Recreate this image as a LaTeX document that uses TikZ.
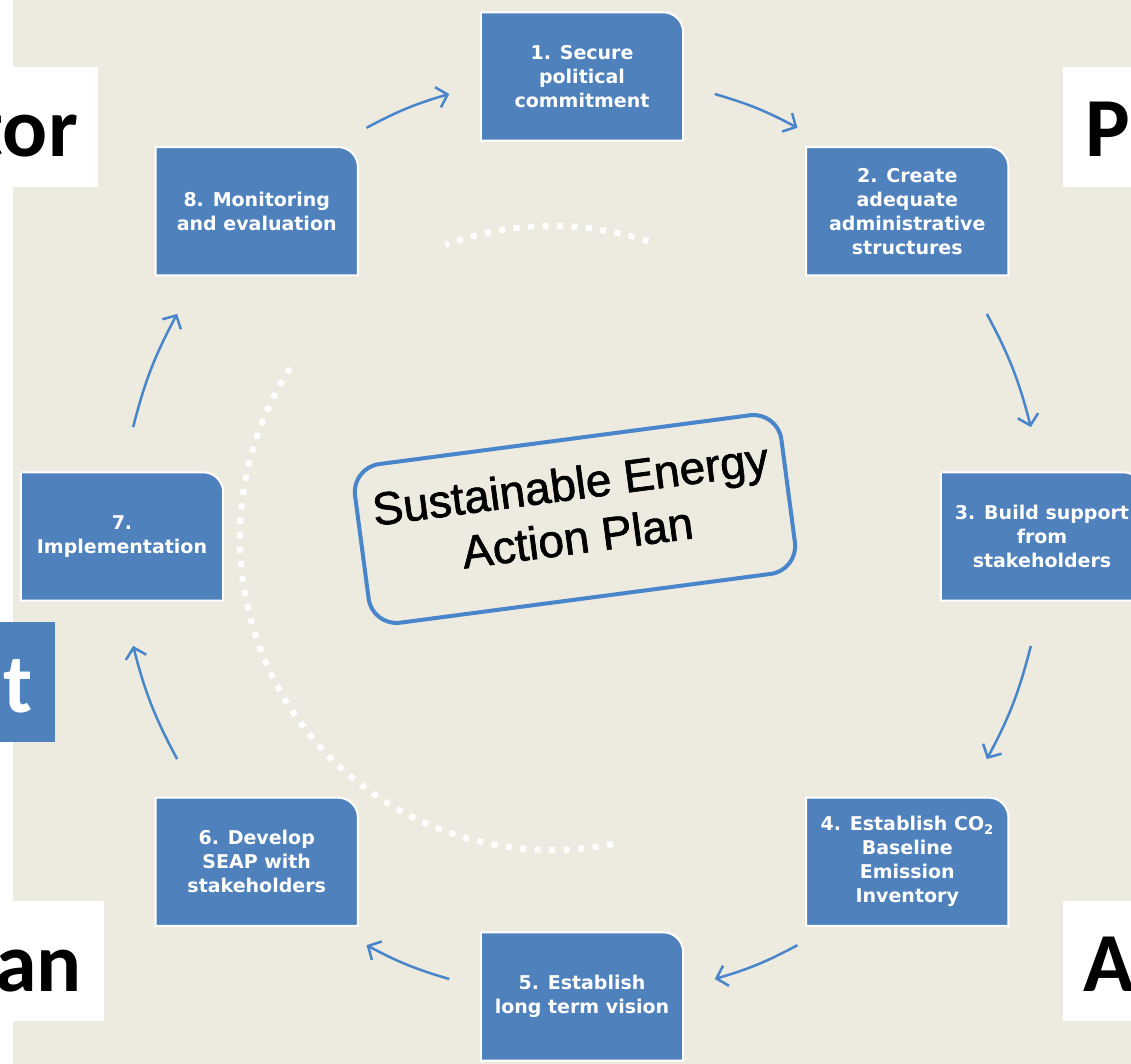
\documentclass[tikz,border=0pt]{standalone}
\usepackage{fontspec}
\setmainfont{Liberation Sans}
\newfontfamily\planfont[FakeBold=1.4]{Liberation Sans}
\newfontfamily\stepfont{DejaVu Sans}
\newfontfamily\tagfont{Carlito}
\usetikzlibrary{arrows.meta, backgrounds}

\definecolor{paper}{RGB}{237,234,224}
\definecolor{stepblue}{RGB}{79,129,189}
\definecolor{ringblue}{RGB}{72,133,202}

\begin{document}
\begin{tikzpicture}[x=1pt, y=1pt]
    \tikzset{
      >={Straight Barb[length=10pt, width=21pt]}, % open arrow heads
      every node/.style={inner sep=0pt},
      stepbox/.style={minimum width=202pt, minimum height=128pt, align=center, text=white,
        font=\stepfont\bfseries\fontsize{19}{24}\selectfont}, % the eight steps
      stepfill/.style={fill=stepblue, draw=white, line width=2pt}, % only the top right corner is round
      plan/.style={draw=ringblue, line width=4pt, fill=paper, rounded corners=28pt,
        minimum width=430pt, minimum height=160pt, align=center, rotate=7.5,
        text depth=18pt, font=\planfont\fontsize{46}{54}\selectfont}, % box in the middle
      tag/.style={fill=white, minimum height=120pt, text height=60pt, text depth=0pt,
        inner xsep=20pt, font=\tagfont\bfseries\fontsize{84}{84}\selectfont}, % cut words at the sides
      flow/.style={draw=ringblue, line width=2.5pt, every edge/.append style={->}},
      dots/.style={draw=white, line width=6pt, dash pattern=on 6pt off 8.5pt},
    }

    \useasboundingbox (-582,-527.5) rectangle (549,536.5);
    \clip (-582,-527.5) rectangle (549,536.5);

    \coordinate (dotring) at (-30,-1.5);

    \node[stepbox] (s1) at (90:460) {1. Secure\\political\\commitment};
    \node[stepbox] (s2) at (45:460) {2. Create\\adequate\\administrative\\structures};
    \node[stepbox] (s3) at (0:460) {3. Build support\\from\\stakeholders};
    \node[stepbox] (s4) at (-45:460) {4. Establish CO\textsubscript{2}\\Baseline\\Emission\\Inventory};
    \node[stepbox] (s5) at (-90:460) {5. Establish\\long term vision};
    \node[stepbox] (s6) at (-135:460) {6. Develop\\SEAP with\\stakeholders};
    \node[stepbox] (s7) at (180:460) {7.\\Implementation};
    \node[stepbox] (s8) at (135:460) {8. Monitoring\\and evaluation};

    \node[plan] (plan) at (-7,17.5) {Sustainable Energy\\Action Plan};

    \node[tag, anchor=east] (tor) at (-484,409.5) {tor};
    \node[tag, anchor=west, inner xsep=22pt] (p) at (481,409.5) {P};
    \node[tag, anchor=east, fill=stepblue, text=white, inner xsep=22pt] (t) at (-527,-145.5) {t};
    \node[tag, anchor=east, inner xsep=22pt] (an) at (-478,-424.5) {an};
    \node[tag, anchor=west] (a) at (481,-424.5) {A};

    % ends of the arrows round the ring
    \coordinate (a12) at (73.3:462);   \coordinate (b12) at (62.2:462);
    \coordinate (a23) at (28.8:462);   \coordinate (b23) at (13.7:462);
    \coordinate (a34) at (-13.7:462);  \coordinate (b34) at (-28.8:462);
    \coordinate (a45) at (-62.2:462);  \coordinate (b45) at (-73.3:462);
    \coordinate (a56) at (-106.7:462); \coordinate (b56) at (-117.8:462);
    \coordinate (a67) at (-151.2:462); \coordinate (b67) at (-166.3:462);
    \coordinate (a78) at (166.3:462);  \coordinate (b78) at (151.2:462);
    \coordinate (a81) at (117.8:462);  \coordinate (b81) at (106.7:462);

    \draw[flow] (a12) edge[bend left=6] (b12)
                (a23) edge[bend left=7] (b23)
                (a34) edge[bend left=7] (b34)
                (a45) edge[bend left=6] (b45)
                (a56) edge[bend left=6] (b56)
                (a67) edge[bend left=7] (b67)
                (a78) edge[bend left=7] (b78)
                (a81) edge[bend left=6] (b81);

    \begin{scope}[on background layer]
      \fill[white] (-582,-527.5) rectangle (549,536.5);
      \fill[paper] (-569,-527.5) rectangle (549,536.5);
      \draw[dots] (dotring) ++(72:312) arc[start angle=72, end angle=110, radius=312];
      \draw[dots] (dotring) ++(147:312) arc[start angle=147, end angle=282, radius=312];
      \foreach \s in {s1,s2,s3,s4,s5,s6,s7,s8}
        \path[stepfill] (\s.south west) -- (\s.north west) -- ([xshift=-20pt]\s.north east)
          arc[start angle=90, end angle=0, radius=20pt] -- (\s.south east) -- cycle;
    \end{scope}
\end{tikzpicture}
\end{document}
